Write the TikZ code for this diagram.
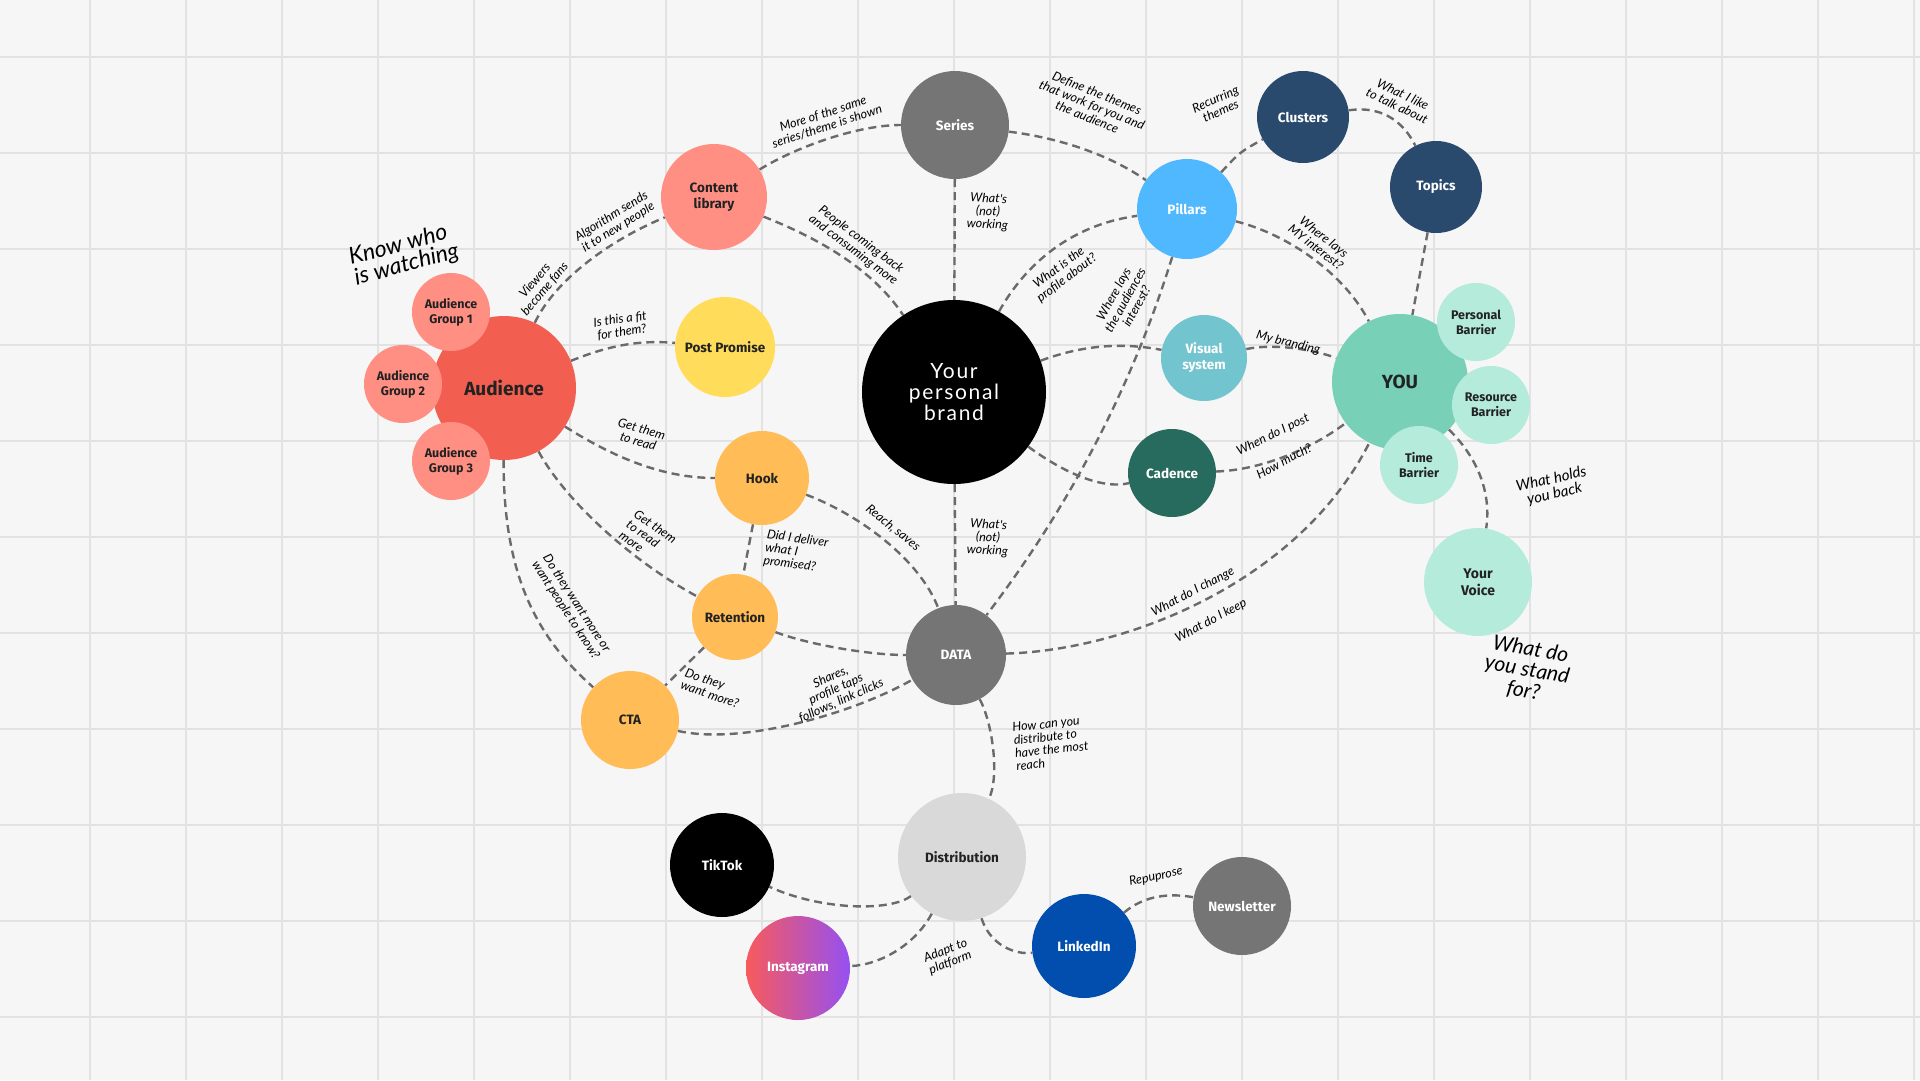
\documentclass[tikz,border=0pt]{standalone}
\usepackage{fontspec}
\setmainfont{Fira Sans}
\newfontfamily\nodefont{Fira Sans}
\newfontfamily\handfont{Lato}
\newfontfamily\brandfont{Lato}[LetterSpace=8]
\definecolor{bgc}{HTML}{F6F6F6}
\definecolor{gridc}{HTML}{E2E2E2}
\definecolor{linec}{HTML}{6A6A6A}
\definecolor{txtd}{HTML}{222222}
\definecolor{aud}{HTML}{F25E50}
\definecolor{salmon}{HTML}{FF8F83}
\definecolor{yel}{HTML}{FFDC5A}
\definecolor{orng}{HTML}{FFBC57}
\definecolor{gry}{HTML}{757575}
\definecolor{pill}{HTML}{4FB8FF}
\definecolor{navy}{HTML}{29496D}
\definecolor{vis}{HTML}{72C4CF}
\definecolor{cad}{HTML}{276B5E}
\definecolor{youc}{HTML}{78D0B6}
\definecolor{mint}{HTML}{B5EBDB}
\definecolor{dist}{HTML}{D9D9D9}
\definecolor{lnk}{HTML}{014EAE}
\definecolor{igl}{HTML}{F85A5C}
\definecolor{igr}{HTML}{9650F2}
\pgfdeclarelayer{bg}
\pgfdeclarelayer{edges}
\pgfsetlayers{bg,edges,main}
\tikzset{
  bub/.style={circle, inner sep=0pt, align=center, text=txtd,
    font=\nodefont\bfseries\fontsize{13.5}{16}\selectfont},
  smallbub/.style={bub, minimum size=78pt,
    font=\nodefont\bfseries\fontsize{12.5}{15}\selectfont},
  bigbub/.style={font=\nodefont\bfseries\fontsize{19}{22}\selectfont},
  wtxt/.style={text=white},
  conn/.style={draw=linec, line width=2.4pt, dash pattern=on 8pt off 5pt},
  gridline/.style={draw=gridc, line width=1.6pt},
  lab/.style={inner sep=0pt, align=center, text=black,
    font=\handfont\itshape\fontsize{12.5}{13}\selectfont},
}
\begin{document}
\begin{tikzpicture}[x=1pt, y=-1pt]
\useasboundingbox (0,0) rectangle (1920,1080);
\begin{pgfonlayer}{bg}
  \fill[bgc] (0,0) rectangle (1920,1080);
  \foreach \k in {0,...,19} \draw[gridline] ({90+96*\k},0) -- ({90+96*\k},1080);
  \foreach \k in {0,...,10} \draw[gridline] (0,{57+96*\k}) -- (1920,{57+96*\k});
\end{pgfonlayer}

% ---------- nodes
\node[bub, fill=black, minimum size=184pt, text=white,
  font=\brandfont\fontsize{21}{21}\selectfont] (brand) at (954,392) {Your\\personal\\brand};
\node[bub, wtxt, fill=gry, minimum size=108pt] (series) at (955,125) {Series};
\node[bub, fill=salmon, minimum size=106pt] (content) at (714,197) {Content\\library};
\node[bub, bigbub, fill=aud, minimum size=144pt] (audience) at (504,388) {Audience};
\node[smallbub, fill=salmon] (ag1) at (451,312) {Audience\\Group 1};
\node[smallbub, fill=salmon] (ag2) at (403,384) {Audience\\Group 2};
\node[smallbub, fill=salmon] (ag3) at (451,461) {Audience\\Group 3};
\node[bub, fill=yel, minimum size=100pt] (post) at (725,347) {Post Promise};
\node[bub, fill=orng, minimum size=94pt] (hook) at (762,478) {Hook};
\node[bub, fill=orng, minimum size=86pt] (retention) at (735,617) {Retention};
\node[bub, fill=orng, minimum size=98pt] (cta) at (630,720) {CTA};
\node[bub, wtxt, fill=gry, minimum size=100pt] (data) at (956,655) {DATA};
\node[bub, wtxt, fill=pill, minimum size=100pt] (pillars) at (1187,209) {Pillars};
\node[bub, wtxt, fill=navy, minimum size=92pt] (clusters) at (1303,117) {Clusters};
\node[bub, wtxt, fill=navy, minimum size=92pt] (topics) at (1436,187) {Topics};
\node[bub, wtxt, fill=vis, minimum size=86pt] (visual) at (1204,358) {Visual\\system};
\node[bub, wtxt, fill=cad, minimum size=88pt] (cadence) at (1172,473) {Cadence};
\node[bub, bigbub, fill=youc, minimum size=136pt] (you) at (1400,382) {YOU};
\node[smallbub, fill=mint] (personal) at (1476,322) {Personal\\Barrier};
\node[smallbub, fill=mint] (resource) at (1491,405) {Resource\\Barrier};
\node[smallbub, fill=mint] (time) at (1419,465) {Time\\Barrier};
\node[bub, fill=mint, minimum size=108pt,
  font=\nodefont\bfseries\fontsize{14}{17}\selectfont] (voice) at (1478,582) {Your\\Voice};
\node[bub, fill=dist, minimum size=128pt] (distribution) at (962,857) {Distribution};
\node[bub, wtxt, fill=black, minimum size=104pt] (tiktok) at (722,865) {TikTok};
\node[bub, wtxt, left color=igl, right color=igr, minimum size=104pt] (instagram) at (798,968) {Instagram};
\node[bub, wtxt, fill=lnk, minimum size=104pt] (linkedin) at (1084,946) {LinkedIn};
\node[bub, wtxt, fill=gry, minimum size=98pt] (newsletter) at (1242,906) {Newsletter};

% ---------- connectors
\begin{pgfonlayer}{edges}
\draw[conn] (audience) .. controls (555,280) and (610,240) .. (content);
\draw[conn] (audience) .. controls (610,345) and (640,340) .. (post);
\draw[conn] (audience) .. controls (610,455) and (660,478) .. (hook);
\draw[conn] (audience) .. controls (565,500) and (630,560) .. (retention);
\draw[conn] (audience) .. controls (503,580) and (540,640) .. (cta);
\draw[conn] (hook) -- (retention);
\draw[conn] (hook) .. controls (860,515) and (920,560) .. (data);
\draw[conn] (retention) .. controls (810,645) and (870,655) .. (data);
\draw[conn] (retention) -- (cta);
\draw[conn] (cta) .. controls (740,745) and (850,715) .. (data);
\draw[conn] (brand) -- (data);
\draw[conn] (series) -- (brand);
\draw[conn] (content) .. controls (800,145) and (860,125) .. (series);
\draw[conn] (content) .. controls (810,235) and (870,265) .. (brand);
\draw[conn] (series) .. controls (1060,138) and (1110,155) .. (pillars);
\draw[conn] (brand) .. controls (1025,265) and (1070,225) .. (pillars);
\draw[conn] (pillars) .. controls (1240,152) .. (clusters);
\draw[conn] (clusters) .. controls (1385,105) and (1405,125) .. (topics);
\draw[conn] (topics) -- (you);
\draw[conn] (pillars) .. controls (1290,235) and (1345,275) .. (you);
\draw[conn] (pillars) .. controls (1132,387) and (1069,507) .. (data);
\draw[conn] (brand) .. controls (1070,350) and (1110,340) .. (visual);
\draw[conn] (visual) .. controls (1275,343) and (1315,350) .. (you);
\draw[conn] (brand) .. controls (1060,470) and (1100,490) .. (cadence);
\draw[conn] (cadence) .. controls (1260,470) and (1310,450) .. (you);
\draw[conn] (data) .. controls (1130,650) and (1300,580) .. (you);
\draw[conn] (you) .. controls (1475,455) and (1492,490) .. (voice);
\draw[conn] (data) .. controls (992,722) and (1000,775) .. (distribution);
\draw[conn] (distribution) .. controls (890,912) and (820,910) .. (tiktok);
\draw[conn] (distribution) .. controls (915,945) and (880,965) .. (instagram);
\draw[conn] (distribution) .. controls (990,945) and (1015,955) .. (linkedin);
\draw[conn] (linkedin) .. controls (1145,895) and (1170,893) .. (newsletter);
\end{pgfonlayer}

% ---------- labels
\node[lab, rotate=50] (l1) at (540,285) {Viewers\\become fans};
\node[lab, rotate=32] (l2) at (615,222) {Algorithm sends\\it to new people};
\node[lab, rotate=8] (l3) at (621,326) {Is this a fit\\for them?};
\node[lab, rotate=-16] (l4) at (640,435) {Get them\\to read};
\node[lab, rotate=-35, align=left] (l5) at (648,537) {Get them\\to read\\more};
\node[lab, rotate=-57] (l6) at (571,607) {Do they want more or\\want people to know?};
\node[lab, rotate=-8, align=left] (l7) at (796,552) {Did I deliver\\what I\\promised?};
\node[lab, rotate=-39] (l8) at (893,528) {Reach, saves};
\node[lab, rotate=-19, align=left] (l9) at (712,688) {Do they\\want more?};
\node[lab, rotate=24] (l10) at (836,689) {Shares,\\profile taps\\follows, link clicks};
\node[lab, rotate=-3] (l11) at (988,538) {What's\\(not)\\working};
\node[lab, rotate=-3] (l12) at (988,212) {What's\\(not)\\working};
\node[lab, rotate=18] (l13) at (825,120) {More of the same\\series/theme is shown};
\node[lab, rotate=-37] (l14) at (857,245) {People coming back\\and consuming more};
\node[lab, rotate=-22] (l15) at (1092,105) {Define the themes\\that work for you and\\the audience};
\node[lab, rotate=37] (l16) at (1063,273) {What is the\\profile about?};
\node[lab, rotate=24] (l17) at (1218,105) {Recurring\\themes};
\node[lab, rotate=-26] (l18) at (1400,100) {What I like\\to talk about};
\node[lab, rotate=-38] (l19) at (1320,242) {Where lays\\MY interest?};
\node[lab, rotate=61] (l20) at (1125,300) {Where lays\\the audiences\\interest?};
\node[lab, rotate=-14] (l21) at (1288,343) {My branding};
\node[lab, rotate=26] (l22) at (1273,435) {When do I post};
\node[lab, rotate=28] (l23) at (1284,461) {How much?};
\node[lab, rotate=28] (l24) at (1193,592) {What do I change};
\node[lab, rotate=28] (l25) at (1211,621) {What do I keep};
\node[lab, rotate=13, font=\handfont\itshape\fontsize{15}{15}\selectfont] (l26) at (1553,487) {What holds\\you back};
\node[lab, rotate=-10, font=\handfont\itshape\fontsize{21}{21}\selectfont] (l27) at (1527,670) {What do\\you stand\\for?};
\node[lab, rotate=6, align=left] (l28) at (1051,743) {How can you\\distribute to\\have the most\\reach};
\node[lab, rotate=21] (l29) at (948,957) {Adapt to\\platform};
\node[lab, rotate=12] (l30) at (1156,877) {Repuprose};
\node[lab, rotate=15, align=left, font=\handfont\itshape\fontsize{23}{21}\selectfont] (l31) at (404,255) {Know who\\is watching};
\end{tikzpicture}
\end{document}
